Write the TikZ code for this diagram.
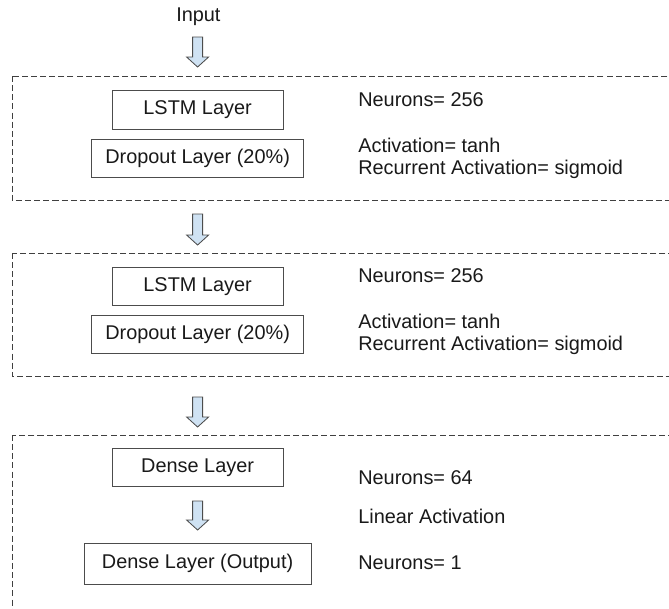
\documentclass[tikz,border=0pt]{standalone}
\usepackage{fontspec}
\setmainfont{Liberation Sans}
\usepackage{xcolor}
\usetikzlibrary{positioning,calc}
\definecolor{arrowblue}{HTML}{CFE2F3}

\begin{document}
\begin{tikzpicture}[font=\fontsize{14.15}{15.7}\selectfont,
  layer/.style={draw=black!70,line width=0.6pt,minimum height=0.96cm,inner sep=0pt,text=black!90},
  grp/.style={draw=black!75,line width=0.6pt,dash pattern=on 4.3pt off 2.2pt},
  info/.style={anchor=west,inner sep=0pt,align=left,text=black!90},
  fat/.style={draw=black!70,fill=arrowblue,line width=0.6pt,line join=miter,
    to path={let \p1=(\tikztostart),\p2=(\tikztotarget) in
      (\x1-0.125cm,\y1) -- (\x1+0.125cm,\y1) -- (\x1+0.125cm,\y2+0.25cm)
      -- (\x1+0.275cm,\y2+0.25cm) -- (\x1,\y2) -- (\x1-0.275cm,\y2+0.25cm)
      -- (\x1-0.125cm,\y2+0.25cm) -- cycle}}]
  \useasboundingbox (0,0) rectangle (16.725,-15.2);
  \clip (0,0) rectangle (16.725,-15.2);
  % input
  \node[inner sep=0pt,text=black!90] (inp) at (4.96,-0.41) {Input};
  \coordinate (ta) at (4.94,-0.925); \coordinate (ha) at (4.94,-1.675);
  \path[fat] (ta) to (ha);
  % first LSTM block
  \draw[grp] (0.3,-1.9) rectangle (17.5,-5.0);
  \node[layer,minimum width=4.275cm] (lstmA) at (4.94,-2.75) {LSTM Layer};
  \node[layer,minimum width=5.3cm,below=0.225cm of lstmA] (dropA) {Dropout Layer (20\%)};
  \node[info] (nA) at (8.95,-2.5) {Neurons= 256};
  \node[info] (actA) at (8.95,-3.95) {Activation= tanh\\Recurrent Activation= sigmoid};
  \coordinate (tb) at (4.94,-5.35); \coordinate (hb) at (4.94,-6.125);
  \path[fat] (tb) to (hb);
  % second LSTM block
  \draw[grp] (0.3,-6.325) rectangle (17.5,-9.4);
  \node[layer,minimum width=4.275cm] (lstmB) at (4.94,-7.16) {LSTM Layer};
  \node[layer,minimum width=5.3cm,below=0.225cm of lstmB] (dropB) {Dropout Layer (20\%)};
  \node[info] (nB) at (8.95,-6.9) {Neurons= 256};
  \node[info] (actB) at (8.95,-8.35) {Activation= tanh\\Recurrent Activation= sigmoid};
  \coordinate (tc) at (4.94,-9.925); \coordinate (hc) at (4.94,-10.675);
  \path[fat] (tc) to (hc);
  % dense block
  \draw[grp] (0.3,-10.875) rectangle (17.5,-16);
  \node[layer,minimum width=4.275cm] (dense) at (4.94,-11.69) {Dense Layer};
  \node[layer,minimum width=5.675cm,minimum height=1.025cm] (out) at (4.94,-14.09) {Dense Layer (Output)};
  \coordinate (td) at (4.94,-12.525); \coordinate (hd) at (4.94,-13.25);
  \path[fat] (td) to (hd);
  \node[info] (nC) at (8.95,-11.95) {Neurons= 64};
  \node[info] (lin) at (8.95,-12.9) {Linear Activation};
  \node[info] (nD) at (8.95,-14.08) {Neurons= 1};
\end{tikzpicture}
\end{document}
